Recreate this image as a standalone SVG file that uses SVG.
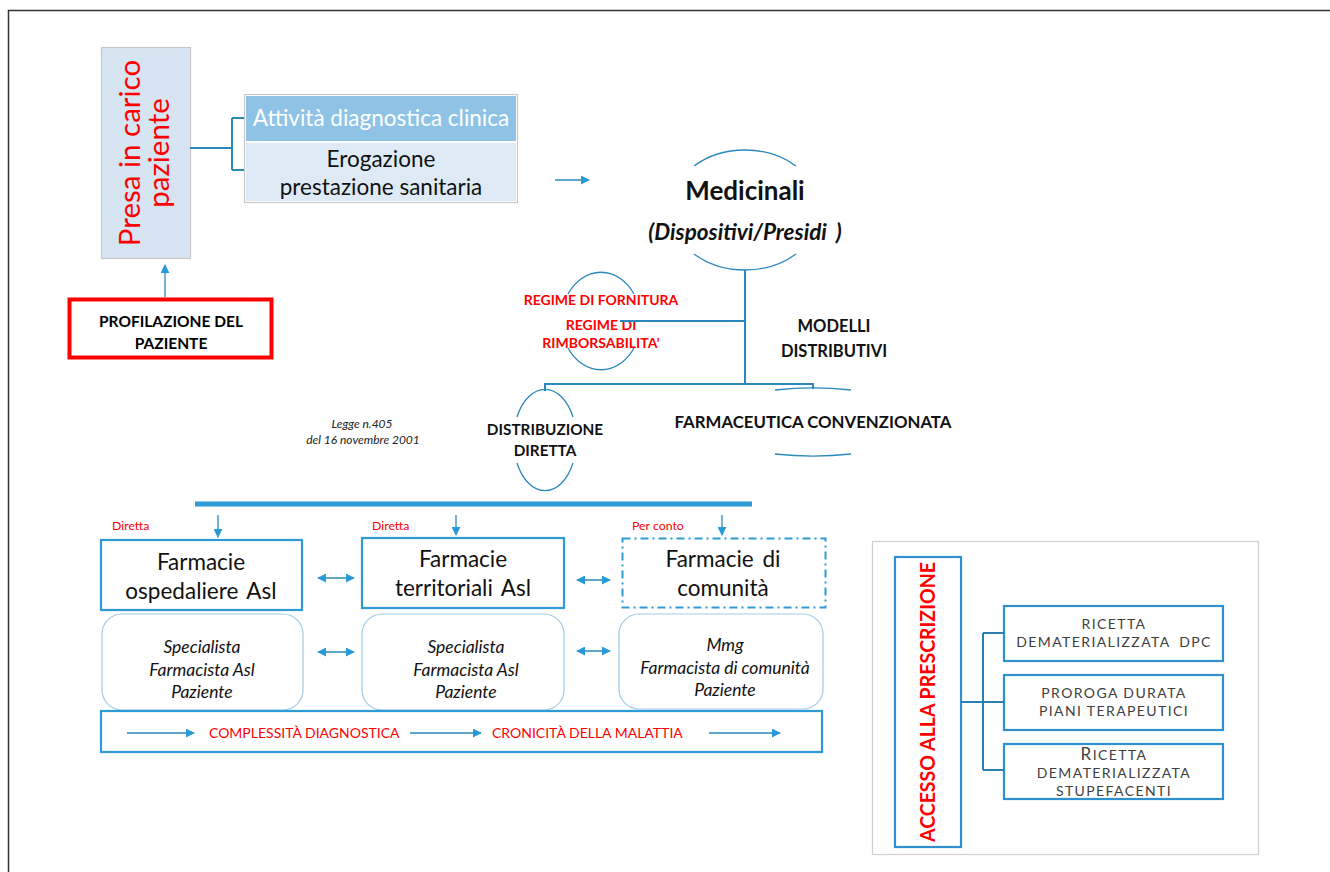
<svg xmlns="http://www.w3.org/2000/svg" width="1330" height="872" viewBox="0 0 1330 872">
<style>
text{font-family:Lato,"Liberation Sans",sans-serif;}
.c{text-anchor:middle}
.red{fill:#ff0000}
.b{font-weight:bold}
.i{font-style:italic}
.ln{fill:none;stroke:#2a88bd;stroke-width:2}
.ar{fill:none;stroke:#2a88bd;stroke-width:1.3}
.bx{fill:#fff;stroke:#2f9bd6;stroke-width:2.2}
.rb{fill:#fff;stroke:#9fcbe8;stroke-width:1.2}
.gb{fill:#fff;stroke:#2f8fcf;stroke-width:2.2}
.gt{fill:#404040;font-size:14px;letter-spacing:1.4px;text-anchor:middle}
.f{font-size:22.5px;fill:#111;text-anchor:middle;word-spacing:3px}
.p{font-size:17.5px;fill:#111;text-anchor:middle;font-style:italic}
</style>
<defs>
<marker id="ah" viewBox="0 0 10 10" refX="9" refY="5" markerWidth="9" markerHeight="9" markerUnits="userSpaceOnUse" orient="auto-start-reverse">
<path d="M0,0 L10,5 L0,10 z" fill="#2a9ad6"/>
</marker>
</defs>
<rect width="1330" height="872" fill="#fff"/>
<path d="M8.5,872 V10.5 H1330" fill="none" stroke="#333" stroke-width="1.5"/>

<g id="presa">
<rect x="101.5" y="47.5" width="89" height="211" fill="#d7e4f2" stroke="#c8c8c8" stroke-width="1.2"/>
<text class="c red" font-size="29.5" transform="translate(140,153) rotate(-90)">Presa in carico</text>
<text class="c red" font-size="29.5" transform="translate(169,153) rotate(-90)">paziente</text>
</g>

<g id="attivita">
<rect x="244.5" y="94.5" width="273" height="108" fill="#fff" stroke="#c8c8c8" stroke-width="1.2"/>
<rect x="246" y="96" width="270" height="45" fill="#8ec3e6"/>
<rect x="246" y="143" width="270" height="58" fill="#deebf7"/>
<text class="c" x="381" y="126" font-size="22.5" fill="#fff">Attività diagnostica clinica</text>
<text class="c" x="381" y="167" font-size="22.5" fill="#111">Erogazione</text>
<text class="c" x="381" y="195" font-size="22.5" fill="#111">prestazione sanitaria</text>
</g>

<g id="profilazione">
<rect x="69.5" y="299.5" width="202" height="58" fill="#fff" stroke="#ff0000" stroke-width="4"/>
<text class="c b" x="171" y="327" font-size="15.5">PROFILAZIONE DEL</text>
<text class="c b" x="171" y="349" font-size="15.5">PAZIENTE</text>
</g>

<g id="medicinali">
<path class="ar" d="M694,166 A75,60 0 0 1 796,166 M694,254 A75,60 0 0 0 796,254" stroke-width="1.6"/>
<text class="c b" x="745" y="200" font-size="26" fill="#111">Medicinali</text>
<text class="c b i" x="745" y="240" font-size="22.5" fill="#111" word-spacing="4">(Dispositivi/Presidi  )</text>
</g>

<g id="regime">
<path class="ar" d="M568,294 A40,50 0 0 1 634,294 M568,348 A40,50 0 0 0 634,348" stroke-width="1.6"/>
<text class="c b red" x="601" y="305" font-size="14">REGIME DI FORNITURA</text>
<text class="c b red" x="601" y="330" font-size="14">REGIME DI</text>
<text class="c b red" x="601" y="348" font-size="14">RIMBORSABILITA’</text>
</g>

<g id="modelli">
<text class="c b" x="834" y="332" font-size="16.5" fill="#111">MODELLI</text>
<text class="c b" x="834" y="357" font-size="16.5" fill="#111">DISTRIBUTIVI</text>
</g>

<g id="distribuzione">
<path class="ar" d="M517,417 A31.5,51 0 0 1 573,417 M517,463 A31.5,51 0 0 0 573,463" stroke-width="1.6"/>
<text class="c b" x="545" y="435" font-size="15.3" fill="#111">DISTRIBUZIONE</text>
<text class="c b" x="545" y="456" font-size="15.3" fill="#111">DIRETTA</text>
</g>

<g id="convenzionata">
<path class="ar" d="M775,390 A110,34 0 0 1 851,390 M775,454 A110,34 0 0 0 851,454" stroke-width="1.6"/>
<text class="c b" x="813" y="428" font-size="16.8" fill="#111">FARMACEUTICA CONVENZIONATA</text>
</g>

<g id="legge">
<text class="c i" x="362" y="428" font-size="12" fill="#222">Legge n.405</text>
<text class="c i" x="363" y="444" font-size="12" fill="#222">del 16 novembre 2001</text>
</g>

<g id="labels">
<text x="112" y="530" font-size="12.3" class="red">Diretta</text>
<text x="372" y="530" font-size="12.3" class="red">Diretta</text>
<text x="632" y="530" font-size="12.3" class="red">Per conto</text>
</g>

<g id="ospedaliere">
<rect class="bx" x="101" y="540" width="201" height="70"/>
<text class="f" x="201" y="570">Farmacie</text>
<text class="f" x="201" y="599">ospedaliere Asl</text>
</g>
<g id="territoriali">
<rect class="bx" x="362" y="538" width="202" height="70"/>
<text class="f" x="463" y="567">Farmacie</text>
<text class="f" x="463" y="596">territoriali  Asl</text>
</g>
<g id="comunita">
<rect x="622.5" y="538.5" width="203" height="69" fill="#fff" stroke="#2f9bd6" stroke-width="2" stroke-dasharray="8 4 2 4"/>
<text class="f" x="723" y="567">Farmacie di</text>
<text class="f" x="723" y="596">comunità</text>
</g>

<g id="attori1">
<rect class="rb" x="102" y="614" width="201" height="96" rx="20"/>
<text class="p" x="202" y="653">Specialista</text>
<text class="p" x="202" y="676">Farmacista Asl</text>
<text class="p" x="202" y="698">Paziente</text>
</g>
<g id="attori2">
<rect class="rb" x="362" y="614" width="202" height="96" rx="20"/>
<text class="p" x="466" y="653">Specialista</text>
<text class="p" x="466" y="676">Farmacista Asl</text>
<text class="p" x="466" y="698">Paziente</text>
</g>
<g id="attori3">
<rect class="rb" x="619" y="614" width="204" height="95" rx="20"/>
<text class="p" x="725" y="651">Mmg</text>
<text class="p" x="725" y="674">Farmacista di comunità</text>
<text class="p" x="725" y="696">Paziente</text>
</g>

<g id="complessita">
<rect class="bx" x="101" y="711" width="721" height="41"/>
<text x="209" y="738" font-size="14" class="red">COMPLESSITÀ  DIAGNOSTICA</text>
<text x="492" y="738" font-size="14" class="red">CRONICITÀ DELLA MALATTIA</text>
</g>

<g id="pannello">
<rect x="872.5" y="541.5" width="386" height="313" fill="#fff" stroke="#d0d0d0" stroke-width="1.2"/>
</g>
<g id="accesso">
<rect class="gb" x="895" y="557" width="66" height="290"/>
<text class="c b red" font-size="21" textLength="280" lengthAdjust="spacingAndGlyphs" transform="translate(935,702) rotate(-90)">ACCESSO  ALLA PRESCRIZIONE</text>
</g>
<g id="dpc">
<rect class="gb" x="1004" y="606" width="219" height="55"/>
<text class="gt" x="1114" y="629">RICETTA</text>
<text class="gt" x="1114" y="647" word-spacing="4">DEMATERIALIZZATA  DPC</text>
</g>
<g id="proroga">
<rect class="gb" x="1004" y="675" width="219" height="55"/>
<text class="gt" x="1114" y="698">PROROGA DURATA</text>
<text class="gt" x="1114" y="716">PIANI TERAPEUTICI</text>
</g>
<g id="stupefacenti">
<rect class="gb" x="1004" y="744" width="219" height="55"/>
<text class="gt" x="1114" y="760"><tspan font-size="17">R</tspan>ICETTA</text>
<text class="gt" x="1114" y="778">DEMATERIALIZZATA</text>
<text class="gt" x="1114" y="796">STUPEFACENTI</text>
</g>

<g id="connectors">
<path class="ln" d="M190,148 H232 M232,118 V170 M232,118 H244 M232,170 H244"/>
<line class="ar" x1="165" y1="297" x2="165" y2="265" marker-end="url(#ah)"/>
<line class="ar" x1="555" y1="180" x2="589" y2="180" marker-end="url(#ah)"/>
<path class="ln" d="M745,270 V384 M745,321 H620 M545,391 V384 H813 V389"/>
<line x1="195" y1="504" x2="752" y2="504" stroke="#2f9bd6" stroke-width="5"/>
<line class="ar" x1="218" y1="515" x2="218" y2="537" marker-end="url(#ah)"/>
<line class="ar" x1="456" y1="515" x2="456" y2="535" marker-end="url(#ah)"/>
<line class="ar" x1="722" y1="515" x2="722" y2="535" marker-end="url(#ah)"/>
<line class="ar" x1="318" y1="578" x2="354" y2="578" marker-start="url(#ah)" marker-end="url(#ah)"/>
<line class="ar" x1="577" y1="580" x2="610" y2="580" marker-start="url(#ah)" marker-end="url(#ah)"/>
<line class="ar" x1="318" y1="652" x2="354" y2="652" marker-start="url(#ah)" marker-end="url(#ah)"/>
<line class="ar" x1="577" y1="651" x2="610" y2="651" marker-start="url(#ah)" marker-end="url(#ah)"/>
<line class="ar" x1="127" y1="733" x2="194" y2="733" marker-end="url(#ah)"/>
<line class="ar" x1="410" y1="733" x2="481" y2="733" marker-end="url(#ah)"/>
<line class="ar" x1="709" y1="733" x2="780" y2="733" marker-end="url(#ah)"/>
<path d="M961,702 H1004 M983,633 V770 M983,633 H1004 M983,770 H1004" fill="none" stroke="#2a7fb0" stroke-width="2"/>
</g>
</svg>
